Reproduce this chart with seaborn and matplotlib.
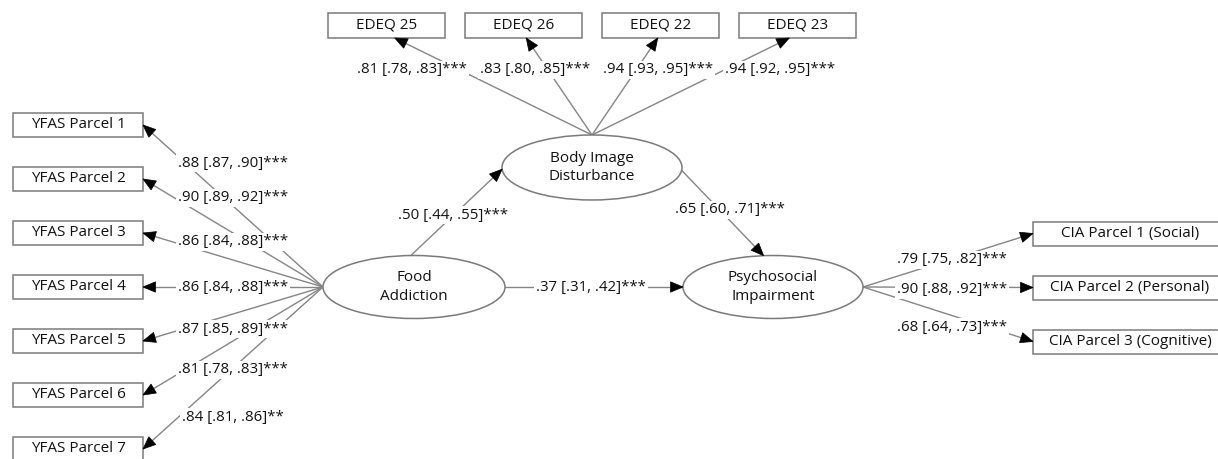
import numpy as np
import pandas as pd
import matplotlib
matplotlib.use("Agg")
import matplotlib.pyplot as plt
from matplotlib.patches import Rectangle, Ellipse, Polygon
import seaborn as sns

# ---- model estimates: standardized loading / path [95% CI] and significance ----
yfas_items = ["YFAS Parcel 1", "YFAS Parcel 2", "YFAS Parcel 3", "YFAS Parcel 4",
              "YFAS Parcel 5", "YFAS Parcel 6", "YFAS Parcel 7"]
yfas_est = [0.88, 0.90, 0.86, 0.86, 0.87, 0.81, 0.84]
yfas_lo = [0.87, 0.89, 0.84, 0.84, 0.85, 0.78, 0.81]
yfas_hi = [0.90, 0.92, 0.88, 0.88, 0.89, 0.83, 0.86]
yfas_sig = ["***", "***", "***", "***", "***", "***", "**"]

edeq_items = ["EDEQ 25", "EDEQ 26", "EDEQ 22", "EDEQ 23"]
edeq_est = [0.81, 0.83, 0.94, 0.94]
edeq_lo = [0.78, 0.80, 0.93, 0.92]
edeq_hi = [0.83, 0.85, 0.95, 0.95]
edeq_sig = ["***", "***", "***", "***"]

cia_items = ["CIA Parcel 1 (Social)", "CIA Parcel 2 (Personal)", "CIA Parcel 3 (Cognitive)"]
cia_est = [0.79, 0.90, 0.68]
cia_lo = [0.75, 0.88, 0.64]
cia_hi = [0.82, 0.92, 0.73]
cia_sig = ["***", "***", "***"]

latent_labels = ["Food\nAddiction", "Body Image\nDisturbance", "Psychosocial\nImpairment"]
path_from = ["FA", "FA", "BID"]
path_to = ["BID", "PI", "PI"]
path_est = [0.50, 0.37, 0.65]
path_lo = [0.44, 0.31, 0.60]
path_hi = [0.55, 0.42, 0.71]
path_sig = ["***", "***", "***"]


def fmt(v):
    s = f"{v:.2f}"
    return s[1:] if s.startswith("0") else s


def coef_label(est, lo, hi, sig):
    return f"{fmt(est)} [{fmt(lo)}, {fmt(hi)}]{sig}"


sns.set_theme(style="white")
plt.rcParams["font.family"] = ["Open Sans", "DejaVu Sans"]

LINE = "#858585"
EDGE = "#7a7a7a"
TXT = "#111111"
NODE_FS = 11.0
LAB_FS = 10.8

fig = plt.figure(figsize=(12.18, 4.59), dpi=100)
ax = fig.add_axes([0, 0, 1, 1])

# ---- layout (canvas pixel units, y grows downward) ----
latent = {
    "FA": dict(cx=414, cy=287, w=182, h=63),
    "BID": dict(cx=592, cy=167.5, w=180, h=65),
    "PI": dict(cx=773, cy=287, w=180, h=63),
}


def anchor(key, deg):
    e = latent[key]
    t = np.deg2rad(deg)
    return (e["cx"] + e["w"] / 2 * np.cos(t), e["cy"] - e["h"] / 2 * np.sin(t))


yfas_box = dict(x0=13, w=130, h=24, y0=125, step=54)
edeq_box = dict(y0=12.5, w=117, h=25.5, x0=386.5, step=137)
cia_box = dict(x0=1033, w=194, h=24, y0=233.5, step=54)

edges = []      # (x0, y0, x1, y1) with arrowhead at the end
labels = []     # (x, y, text)

# Food Addiction indicators
fa_left = anchor("FA", 180)
yfas_lab_y = [163, 198, 242, 287, 329, 370, 417]
for i, name in enumerate(yfas_items):
    yc = yfas_box["y0"] + i * yfas_box["step"]
    ax.add_patch(Rectangle((yfas_box["x0"], yc - yfas_box["h"] / 2), yfas_box["w"], yfas_box["h"],
                           fc="white", ec=EDGE, lw=1.1, zorder=2))
    ax.text(yfas_box["x0"] + yfas_box["w"] / 2, yc, name, ha="center", va="center",
            fontsize=NODE_FS, color=TXT, zorder=3)
    edges.append((fa_left[0], fa_left[1], yfas_box["x0"] + yfas_box["w"], yc))
    labels.append((233, yfas_lab_y[i], coef_label(yfas_est[i], yfas_lo[i], yfas_hi[i], yfas_sig[i])))

# Body Image Disturbance indicators
bid_top = anchor("BID", 90)
edeq_lab_x = [412, 535, 658, 780]
for i, name in enumerate(edeq_items):
    xc = edeq_box["x0"] + i * edeq_box["step"]
    ax.add_patch(Rectangle((xc - edeq_box["w"] / 2, edeq_box["y0"]), edeq_box["w"], edeq_box["h"],
                           fc="white", ec=EDGE, lw=1.1, zorder=2))
    ax.text(xc, edeq_box["y0"] + edeq_box["h"] / 2, name, ha="center", va="center",
            fontsize=NODE_FS, color=TXT, zorder=3)
    # arrows lean slightly toward the factor
    tip_x = xc + 0.04 * (bid_top[0] - xc)
    edges.append((bid_top[0], bid_top[1], tip_x, edeq_box["y0"] + edeq_box["h"]))
    labels.append((edeq_lab_x[i], 70, coef_label(edeq_est[i], edeq_lo[i], edeq_hi[i], edeq_sig[i])))

# Psychosocial Impairment indicators
pi_right = anchor("PI", 0)
cia_lab_y = [260, 290, 327]
for i, name in enumerate(cia_items):
    yc = cia_box["y0"] + i * cia_box["step"]
    ax.add_patch(Rectangle((cia_box["x0"], yc - cia_box["h"] / 2), cia_box["w"], cia_box["h"],
                           fc="white", ec=EDGE, lw=1.1, zorder=2, clip_on=True))
    ax.text(1130, yc, name, ha="center", va="center", fontsize=NODE_FS, color=TXT, zorder=3)
    edges.append((pi_right[0], pi_right[1], cia_box["x0"], yc))
    labels.append((952, cia_lab_y[i], coef_label(cia_est[i], cia_lo[i], cia_hi[i], cia_sig[i])))

# Structural paths
path_anchor = {("FA", "BID"): (92, 183), ("FA", "PI"): (0, 180), ("BID", "PI"): (-5, 96)}
path_lab_pos = {("FA", "BID"): (453, 215), ("FA", "PI"): (591, 287), ("BID", "PI"): (730, 210)}
for i in range(len(path_est)):
    key = (path_from[i], path_to[i])
    a0, a1 = path_anchor[key]
    p0 = anchor(path_from[i], a0)
    p1 = anchor(path_to[i], a1)
    edges.append((p0[0], p0[1], p1[0], p1[1]))
    lx, ly = path_lab_pos[key]
    labels.append((lx, ly, coef_label(path_est[i], path_lo[i], path_hi[i], path_sig[i])))

# Edge lines drawn through seaborn
edge_df = pd.DataFrame(
    [dict(edge=k, x=e[0], y=e[1], order=0) for k, e in enumerate(edges)]
    + [dict(edge=k, x=e[2], y=e[3], order=1) for k, e in enumerate(edges)]
).sort_values(["edge", "order"])
sns.lineplot(data=edge_df, x="x", y="y", units="edge", estimator=None, sort=False,
             color=LINE, lw=1.0, ax=ax, legend=False, zorder=1)
ax.set_xlim(0, 1218)
ax.set_ylim(459, 0)
ax.axis("off")

# Arrowheads
HEAD_L, HEAD_W = 12.5, 5.2
for x0, y0, x1, y1 in edges:
    d = np.array([x1 - x0, y1 - y0], dtype=float)
    d /= np.hypot(*d)
    n = np.array([-d[1], d[0]])
    tip = np.array([x1, y1])
    base = tip - HEAD_L * d
    ax.add_patch(Polygon([tip, base + HEAD_W * n, base - HEAD_W * n], closed=True,
                         fc="black", ec="black", lw=0.5, zorder=4))

# Latent factors
for key, text in zip(["FA", "BID", "PI"], latent_labels):
    e = latent[key]
    ax.add_patch(Ellipse((e["cx"], e["cy"]), e["w"], e["h"], fc="white", ec=EDGE, lw=1.1, zorder=2))
    ax.text(e["cx"], e["cy"], text, ha="center", va="center", fontsize=NODE_FS,
            color=TXT, linespacing=1.35, zorder=3)

# Coefficient labels
for x, y, t in labels:
    ax.text(x, y, t, ha="center", va="center", fontsize=LAB_FS, color=TXT, zorder=5,
            bbox=dict(fc="white", ec="none", pad=1.2))

fig.savefig("out.png", dpi=100, facecolor="white")
